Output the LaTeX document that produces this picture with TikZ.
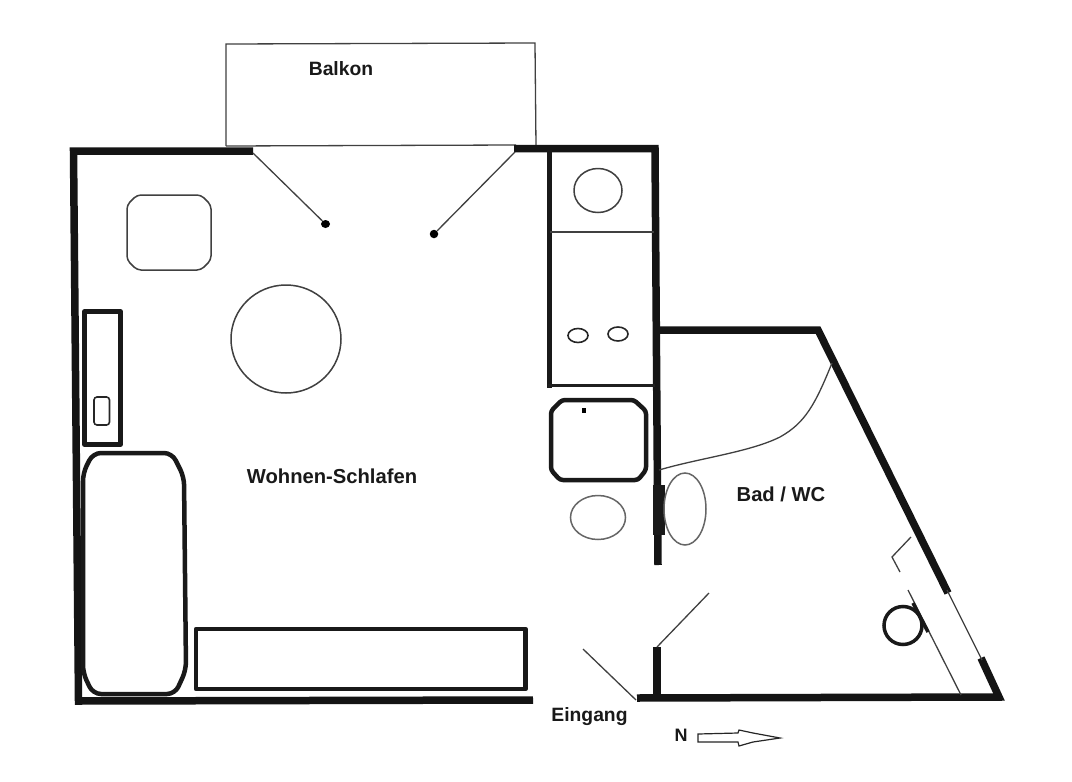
\documentclass[tikz,border=0pt]{standalone}
\usepackage{fontspec}
\usetikzlibrary{shapes.geometric}
\setmainfont{Liberation Sans}
\begin{document}
\begin{tikzpicture}[x=1pt,y=-1pt,
  wall/.style={line width=7.5pt,line cap=butt,line join=miter,color=black!92},
  midwall/.style={line width=4.5pt,color=black!90,line join=round},
  thin/.style={line width=1.3pt,color=black!75},
  furn/.style={line width=1.5pt,color=black!75},
  fine/.style={line width=1.6pt,color=black!85},
  label/.style={font=\bfseries\fontsize{#1}{22}\selectfont,inner sep=0pt,color=black!90}]
\useasboundingbox[fill=white] (0,0) rectangle (1072,782);
% balcony
\draw[thin] (226,146) -- (226,44) -- (535,43) -- (536,146);
\draw[thin] (226,146) -- (516,145);
\node[label=19.3] (balkon) at (341,69) {Balkon};
% outer walls of the living room
\draw[wall] (253,151) -- (73.5,151) -- (78.5,701) -- (533,700);
\draw[wall] (514,148.5) -- (655,148.5) -- (658,565);
% balcony doors
\coordinate (dl0) at (253,153);
\coordinate (dr0) at (515,152);
\node[ellipse,fill=black,inner sep=0pt,minimum width=9pt,minimum height=8pt] (dl) at (325.5,224) {};
\node[circle,fill=black,inner sep=0pt,minimum size=8.5pt] (dr) at (434,234) {};
\draw[thin] (dl0) -- (dl);
\draw[thin] (dr0) -- (dr);
% kitchen
\draw[line width=4.2pt,color=black!90] (549.5,150) -- (549.5,388);
\draw[thin] (550,232) -- (654,232);
\draw[line width=3pt,color=black!88] (548,385.5) -- (655,385.5);
\draw[furn] (598,190.5) ellipse (24 and 22);
\draw[fine] (578,335.5) ellipse (10 and 7);
\draw[fine] (618,334) ellipse (10 and 7);
% furniture, living room
\draw[furn,rounded corners=4pt] (137,195) -- (201,195) -- (211,205) -- (211,260) -- (201,270) -- (137,270) -- (127,260) -- (127,205) -- cycle;
\draw[furn] (286,339) ellipse (55 and 54);
\draw[midwall] (84.5,311.5) rectangle (120.5,444.5);
\draw[fine,rounded corners=3pt] (94,397) rectangle (109.5,425);
\draw[midwall,rounded corners=8pt] (93,453) -- (172,453) -- (184,477) -- (186,670) -- (175,694) -- (93,694) -- (83,673) -- (83,473) -- cycle;
\draw[midwall] (196,629) rectangle (525.5,689);
% cabinet at the bath wall
\draw[midwall,rounded corners=3pt] (562,400) -- (634,400) -- (646,411) -- (646,470) -- (638,480) -- (560,480) -- (551,470) -- (551,411) -- cycle;
\node[fill=black,inner sep=0pt,minimum width=4pt,minimum height=5pt] (dot) at (584,410) {};
\draw[furn,color=black!60] (598,517.5) ellipse (27.5 and 22);
% bathroom
\draw[wall] (658,330) -- (818,330) -- (948,593);
\draw[wall] (981,658) -- (999,697) -- (637,698);
\draw[wall] (657,698) -- (657,647);
\draw[line width=12pt,color=black!90] (659,485) -- (659,535);
\draw[thin] (947,590) -- (982,660);
\draw[thin] (832,363) .. controls (815,405) and (805,423) .. (780,437) .. controls (750,452) and (700,458) .. (659,470);
\draw[furn,color=black!60] (685,509) ellipse (21 and 36);
\draw[thin] (657,647) -- (709,593);
\draw[thin] (636,700) -- (583,649);
\draw[thin] (911,537) -- (892,557) -- (900,572);
\draw[thin] (908,590) -- (961,695);
\draw[line width=3.5pt,color=black!90] (903,625.5) circle (19);
\draw[line width=3.5pt,color=black!90] (913,603) -- (928,632);
% labels
\node[label=20.2] (wohnen) at (332,476.5) {Wohnen-Schlafen};
\node[label=20.2] (bad) at (781,494) {Bad / WC};
\node[label=19.3] (eingang) at (589.5,717) {Eingang};
\node[label=18] (north) at (681,735) {N};
% north arrow
\draw[line width=1.2pt,fill=white,draw=black!85] (698,734) -- (738,733) -- (739,730) -- (753,733) -- (780,738) -- (753,742) -- (739,746) -- (738,742) -- (698,742) -- cycle;
\end{tikzpicture}
\end{document}
